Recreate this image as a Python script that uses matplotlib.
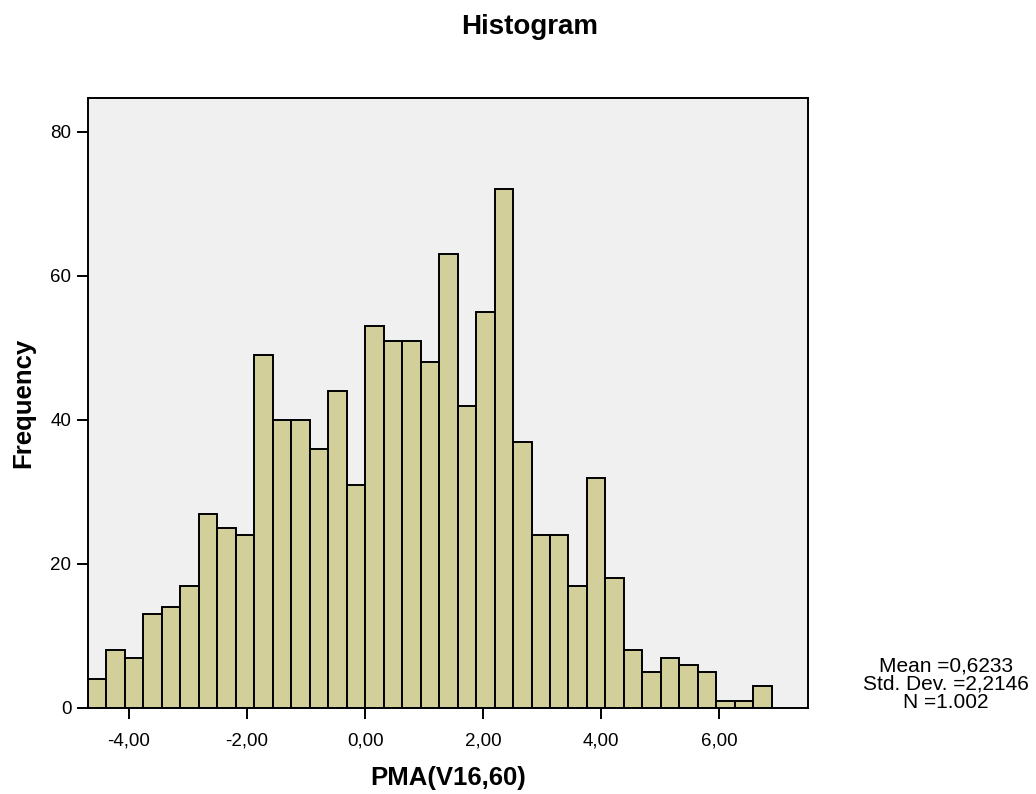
import numpy as np
import matplotlib
matplotlib.use('Agg')
import matplotlib.pyplot as plt

plt.rcParams['font.family'] = ['Liberation Sans', 'DejaVu Sans']

# histogram counts per bin (sum = N = 1002)
counts = [4, 8, 7, 13, 14, 17, 27, 25, 24,
          49, 40, 40, 36, 44, 31,
          53, 51, 51, 48, 63, 42, 55, 72,
          37, 24, 24, 17, 32, 18,
          8, 5, 7, 6, 5, 1, 1, 3]
first_edge = -4.695
bin_width = 0.313

x_ticks = [-4, -2, 0, 2, 4, 6]
x_ticklabels = ['-4,00', '-2,00', '0,00', '2,00', '4,00', '6,00']
y_ticks = [0, 20, 40, 60, 80]

stats_lines = ['Mean =0,6233', 'Std. Dev. =2,2146', 'N =1.002']

counts = np.asarray(counts)
edges = first_edge + bin_width * np.arange(len(counts))

W, H = 1036, 794
fig = plt.figure(figsize=(W / 100, H / 100), dpi=100)
ax = fig.add_axes([88 / W, 1 - 708 / H, 720 / W, 610 / H])
ax.set_facecolor('#f0f0f0')

ax.bar(edges, counts, width=bin_width, align='edge',
       color='#d3cf9a', edgecolor='black', linewidth=1.4)

ax.set_xlim(first_edge, 7.50)
ax.set_ylim(0, 84.7)
ax.set_xticks(x_ticks)
ax.set_xticklabels(x_ticklabels)
ax.set_yticks(y_ticks)
ax.tick_params(direction='out', length=8, width=1.4, labelsize=13.5, colors='black')
ax.tick_params(axis='x', pad=10)
ax.tick_params(axis='y', pad=4)
for s in ax.spines.values():
    s.set_linewidth(1.4)

ax.set_xlabel('PMA(V16,60)', fontsize=18.5, fontweight='bold', va='center')
ax.set_ylabel('Frequency', fontsize=18.5, fontweight='bold', va='center')
ax.xaxis.set_label_coords(0.5, (708 - 778) / 610)
ax.yaxis.set_label_coords((23 - 88) / 720, 0.5)

fig.text(530 / W, 1 - 27 / H, 'Histogram', ha='center', va='center',
         fontsize=20, fontweight='bold')
fig.text(946 / W, 1 - 684 / H, '\n'.join(stats_lines), ha='center', va='center',
         fontsize=15, linespacing=0.95)

fig.savefig('out.png', dpi=100)
